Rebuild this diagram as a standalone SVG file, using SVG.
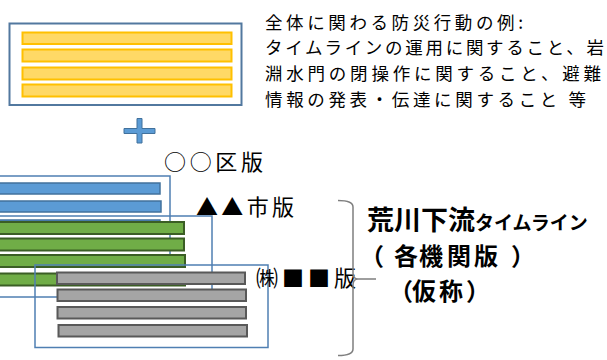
<svg xmlns="http://www.w3.org/2000/svg" width="607" height="360" viewBox="0 0 607 360">
<style>
text{font-family:"Noto Sans CJK JP","Noto Sans",sans-serif;fill:#000}
.frame{fill:none;stroke:#4f7fb2;stroke-width:1.5}
.yel{fill:#ffd966;stroke:#ffc000;stroke-width:2}
.blu{fill:#5b9bd5;stroke:#41719c;stroke-width:1.5}
.grn{fill:#70ad47;stroke:#3b5e25;stroke-width:2}
.gry{fill:#a5a5a5;stroke:#595959;stroke-width:2}
.note{font-size:17.5px}
.lbl{font-size:22px}
.ttl{font-weight:bold}
</style>
<rect width="607" height="360" fill="#fff"/>
<g id="common-box">
<rect x="9.5" y="23.5" width="232" height="81.5" fill="#fff" stroke="#52789f" stroke-width="2"/>
<rect class="yel" x="22.5" y="32.5" width="209" height="11.5"/>
<rect class="yel" x="22.5" y="49.5" width="209" height="12"/>
<rect class="yel" x="22.5" y="67.5" width="209" height="12"/>
<rect class="yel" x="22.5" y="84.5" width="209" height="12"/>
</g>
<g id="common-note">
<text class="note" x="265" y="28.5" textLength="258" lengthAdjust="spacing">全体に関わる防災行動の例:</text>
<text class="note" x="265" y="54" textLength="339" lengthAdjust="spacing">タイムラインの運用に関すること、岩</text>
<text class="note" x="265" y="80" textLength="336" lengthAdjust="spacing">淵水門の閉操作に関すること、避難</text>
<text class="note" x="265" y="106" textLength="321" lengthAdjust="spacing">情報の発表・伝達に関すること 等</text>
</g>
<g id="plus">
<polygon points="137,118.5 142,118.5 142,128.5 155,128.5 155,133.5 142,133.5 142,143 137,143 137,133.5 124,133.5 124,128.5 137,128.5" fill="#5b9bd5" stroke="#41719c" stroke-width="1"/>
</g>
<g id="ku-version">
<rect class="frame" x="-10" y="176" width="180" height="86"/>
<rect class="blu" x="-5" y="183" width="165" height="11"/>
<rect class="blu" x="-5" y="201" width="166" height="11"/>
<rect class="blu" x="-5" y="220" width="165" height="11"/>
<text class="lbl" x="164" y="170" textLength="99" lengthAdjust="spacing">○○区版</text>
</g>
<g id="shi-version">
<rect class="frame" x="-10" y="216" width="222" height="81"/>
<rect class="grn" x="-5" y="222" width="189" height="12"/>
<rect class="grn" x="-5" y="238.5" width="189" height="12"/>
<rect class="grn" x="-5" y="255" width="190" height="12"/>
<rect class="grn" x="-5" y="273.5" width="190" height="12"/>
<text class="lbl" x="196" y="215" textLength="98" lengthAdjust="spacing">▲▲市版</text>
</g>
<g id="kabu-version">
<rect class="frame" x="35" y="265" width="233" height="82.5"/>
<rect class="gry" x="57" y="272.5" width="188" height="11.5"/>
<rect class="gry" x="57.5" y="289.5" width="188.5" height="11.5"/>
<rect class="gry" x="57.5" y="307" width="188.5" height="11.5"/>
<rect class="gry" x="58.5" y="325" width="188.5" height="11.5"/>
<text class="lbl" x="256" y="286" textLength="100" lengthAdjust="spacing">㈱■■版</text>
</g>
<g id="connectors">
<path d="M338,200.5 Q353,200.5 353,207 L353,273 Q353,279 358,279 L376,279 M358,279 Q353,279 353,285 L353,349 Q353,355.5 338,355.5" fill="none" stroke="#7f7f7f" stroke-width="1.5"/>
</g>
<g id="title">
<text class="ttl" x="367" y="230"><tspan font-size="27">荒川下流</tspan><tspan font-size="19">タイムライン</tspan></text>
<text class="ttl" font-size="24" y="265" x="360 394 419 447 474 511">（各機関版）</text>
<text class="ttl" font-size="24" y="300" x="389 412 439 466">（仮称）</text>
</g>
</svg>
